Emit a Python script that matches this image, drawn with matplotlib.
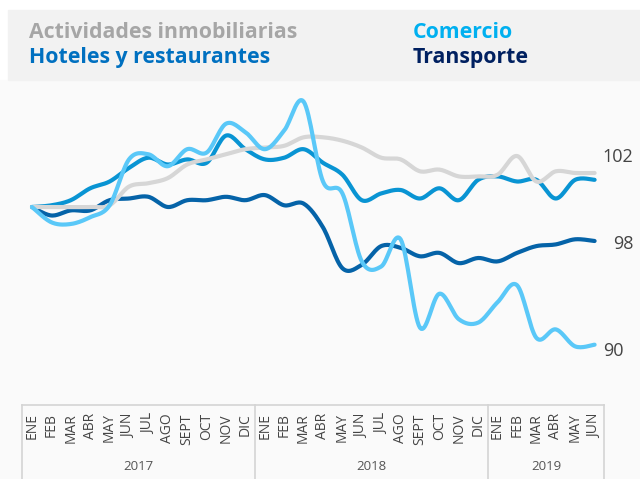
import numpy as np
import matplotlib.pyplot as plt
from matplotlib.patches import Rectangle

plt.rcParams['font.family'] = ['Open Sans', 'DejaVu Sans']

meses = ['ENE', 'FEB', 'MAR', 'ABR', 'MAY', 'JUN', 'JUL', 'AGO', 'SEPT', 'OCT', 'NOV', 'DIC'] * 2 + \
        ['ENE', 'FEB', 'MAR', 'ABR', 'MAY', 'JUN']
anios = ['2017', '2018', '2019']

inmobiliarias = [100.0, 100.0, 100.0, 100.0, 100.1, 101.2, 101.4, 101.7, 102.5, 102.8,
                 103.1, 103.4, 103.5, 103.6, 104.1, 104.1, 103.9, 103.5, 102.9, 102.8,
                 102.1, 102.2, 101.8, 101.8, 101.9, 103.0, 101.5, 102.1, 102.0, 102.0]
hoteles = [100.0, 100.1, 100.4, 101.1, 101.5, 102.3, 102.9, 102.5, 102.8, 102.6,
           104.2, 103.4, 102.8, 102.9, 103.4, 102.6, 101.9, 100.4, 100.8, 101.0,
           100.5, 101.1, 100.4, 101.6, 101.8, 101.5, 101.6, 100.5, 101.6, 101.6]
comercio = [100.0, 99.1, 99.0, 99.4, 100.1, 102.8, 103.1, 102.4, 103.4, 103.2,
            104.9, 104.4, 103.4, 104.5, 106.2, 101.5, 100.8, 96.8, 96.5, 98.1,
            92.9, 94.9, 93.4, 93.2, 94.4, 95.4, 92.3, 92.8, 91.8, 91.9]
transporte = [100.0, 99.5, 99.8, 99.8, 100.4, 100.5, 100.6, 100.0, 100.4, 100.4,
              100.6, 100.4, 100.7, 100.1, 100.2, 98.8, 96.4, 96.6, 97.7, 97.6,
              97.1, 97.3, 96.7, 97.0, 96.8, 97.3, 97.7, 97.8, 98.1, 98.0]


def suavizar(x, y, n=16):
    # curva tipo Catmull-Rom, como las lineas suavizadas de Excel
    pts = np.column_stack([x, y]).astype(float)
    p = np.vstack([pts[0], pts, pts[-1]])
    t = np.linspace(0, 1, n, endpoint=False)[:, None]
    out = []
    for i in range(1, len(p) - 2):
        p0, p1, p2, p3 = p[i - 1], p[i], p[i + 1], p[i + 2]
        seg = 0.5 * (2 * p1 + (-p0 + p2) * t + (2 * p0 - 5 * p1 + 4 * p2 - p3) * t ** 2
                     + (-p0 + 3 * p1 - 3 * p2 + p3) * t ** 3)
        out.append(seg)
    out.append(pts[-1][None])
    s = np.vstack(out)
    return s[:, 0], s[:, 1]


W, H = 640, 479
dpi = 100
fig = plt.figure(dpi=dpi, figsize=(W / dpi, H / dpi))
fig.patch.set_facecolor('white')
fig.patches.append(Rectangle((0, 0), 1, 1 - 80 / H, transform=fig.transFigure,
                             color='#fafafa', zorder=-2))
fig.patches.append(Rectangle((8 / W, 1 - 80 / H), 1, 70 / H, transform=fig.transFigure,
                             color='#f2f2f2', zorder=-1))

left = 22.3 / W
width = 582 / W
ax = fig.add_axes([left, 1 - 400 / H, width, 315 / H])
ax.set_facecolor('none')
x = np.arange(len(meses))
for serie, color in [(transporte, '#0563a8'), (hoteles, '#0994d3'),
                     (inmobiliarias, '#d6d6d6'), (comercio, '#5ac8f8')]:
    xs, ys = suavizar(x, serie)
    ax.plot(xs, ys, color=color, lw=3, solid_capstyle='round', solid_joinstyle='round')
ax.set_xlim(-0.5, 29.5)
ax.set_ylim(100 - 193 / 17, 100 + 122 / 17)
ax.axis('off')

# caja del eje x
ax2 = fig.add_axes([left, 0, width, 74 / H])
ax2.set_facecolor('none')
ax2.set_xlim(-0.5, 29.5)
ax2.set_ylim(0, 1)
ax2.axis('off')
ax2.plot([-0.5, 29.5], [1, 1], color='#d4d4d4', lw=1.2, clip_on=False)
for xv in [-0.5, 11.5, 23.5, 29.5]:
    ax2.plot([xv, xv], [0, 1], color='#d4d4d4', lw=1.2, clip_on=False)
for i, m in enumerate(meses):
    ax2.text(i, 0.89, m, rotation=90, ha='center', va='top', fontsize=10, color='#444444')
for xc, a in zip([5.5, 17.5, 26.5], anios):
    ax2.text(xc, 0.17, a, ha='center', va='center', fontsize=9.5, color='#555555')

# leyenda
fig.text(29 / W, 1 - 33 / H, 'Actividades inmobiliarias', fontsize=15.3, fontweight='bold',
         color='#a6a6a6', va='center')
fig.text(29 / W, 1 - 58 / H, 'Hoteles y restaurantes', fontsize=15.3, fontweight='bold',
         color='#0070c0', va='center')
fig.text(413 / W, 1 - 33 / H, 'Comercio', fontsize=15.3, fontweight='bold',
         color='#00b0f0', va='center')
fig.text(413 / W, 1 - 58 / H, 'Transporte', fontsize=15.3, fontweight='bold',
         color='#002060', va='center')

# valores finales
for xp, yp, t in [(618, 156.5, '102'), (623, 243.5, '98'), (613, 351, '90')]:
    fig.text(xp / W, 1 - yp / H, t, ha='center', va='center', fontsize=13, color='#444444')

fig.savefig('out.png', dpi=dpi, facecolor=fig.get_facecolor())
